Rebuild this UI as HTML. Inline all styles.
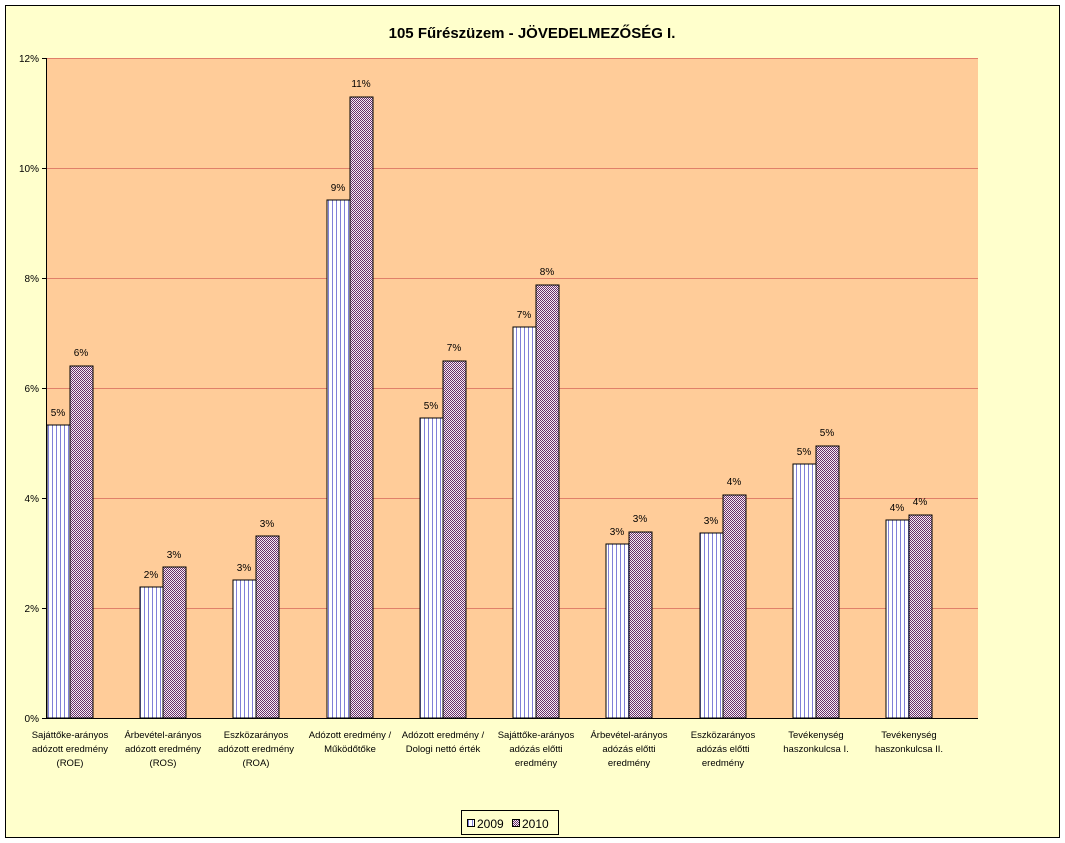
<!DOCTYPE html>
<html><head><meta charset="utf-8"><style>
body{margin:0;background:#fff}
svg{display:block;font-family:"Liberation Sans",Arial,sans-serif}
</style></head><body>
<svg width="1065" height="843" viewBox="0 0 1065 843" xmlns="http://www.w3.org/2000/svg">
<defs>
<pattern id="p09" width="4" height="4" patternUnits="userSpaceOnUse"><rect width="4" height="4" fill="#fff"/><rect x="0" width="1" height="4" fill="#8080d8"/></pattern>
<pattern id="p10" width="2" height="2" patternUnits="userSpaceOnUse"><rect width="2" height="2" fill="#f4eef4"/><rect width="1" height="1" fill="#6a2f6a"/><rect x="1" y="1" width="1" height="1" fill="#6a2f6a"/></pattern>
</defs>
<rect width="1065" height="843" fill="#fff"/>
<rect x="5.5" y="5.5" width="1054" height="832" fill="#FFFFCC" stroke="#000"/>
<text x="532" y="38" font-size="15" font-weight="bold" text-anchor="middle">105 Fűrészüzem - JÖVEDELMEZŐSÉG I.</text>
<rect x="46" y="58" width="932" height="660" fill="#FFCC99"/>
<g stroke="#e0806a" stroke-width="1">
<line x1="46" x2="978" y1="58.5" y2="58.5"/><line x1="46" x2="978" y1="168.5" y2="168.5"/><line x1="46" x2="978" y1="278.5" y2="278.5"/><line x1="46" x2="978" y1="388.5" y2="388.5"/><line x1="46" x2="978" y1="498.5" y2="498.5"/><line x1="46" x2="978" y1="608.5" y2="608.5"/>
</g>
<g stroke="#000"><line x1="46.5" y1="58" x2="46.5" y2="718"/><line x1="42" y1="718.5" x2="978" y2="718.5"/>
<line x1="42" x2="46" y1="58.5" y2="58.5"/><line x1="42" x2="46" y1="168.5" y2="168.5"/><line x1="42" x2="46" y1="278.5" y2="278.5"/><line x1="42" x2="46" y1="388.5" y2="388.5"/><line x1="42" x2="46" y1="498.5" y2="498.5"/><line x1="42" x2="46" y1="608.5" y2="608.5"/></g>
<g font-size="10" text-anchor="end">
<text x="39" y="62">12%</text><text x="39" y="172">10%</text><text x="39" y="282">8%</text><text x="39" y="392">6%</text><text x="39" y="502">4%</text><text x="39" y="612">2%</text><text x="39" y="722">0%</text>
</g>
<g stroke="#000" stroke-width="1">
<rect x="47" y="425" width="23" height="293" fill="url(#p09)"/><rect x="70" y="366" width="23" height="352" fill="url(#p10)"/>
<rect x="140" y="587" width="23" height="131" fill="url(#p09)"/><rect x="163" y="567" width="23" height="151" fill="url(#p10)"/>
<rect x="233" y="580" width="23" height="138" fill="url(#p09)"/><rect x="256" y="536" width="23" height="182" fill="url(#p10)"/>
<rect x="327" y="200" width="23" height="518" fill="url(#p09)"/><rect x="350" y="97" width="23" height="621" fill="url(#p10)"/>
<rect x="420" y="418" width="23" height="300" fill="url(#p09)"/><rect x="443" y="361" width="23" height="357" fill="url(#p10)"/>
<rect x="513" y="327" width="23" height="391" fill="url(#p09)"/><rect x="536" y="285" width="23" height="433" fill="url(#p10)"/>
<rect x="606" y="544" width="23" height="174" fill="url(#p09)"/><rect x="629" y="532" width="23" height="186" fill="url(#p10)"/>
<rect x="700" y="533" width="23" height="185" fill="url(#p09)"/><rect x="723" y="495" width="23" height="223" fill="url(#p10)"/>
<rect x="793" y="464" width="23" height="254" fill="url(#p09)"/><rect x="816" y="446" width="23" height="272" fill="url(#p10)"/>
<rect x="886" y="520" width="23" height="198" fill="url(#p09)"/><rect x="909" y="515" width="23" height="203" fill="url(#p10)"/>
</g>
<g font-size="10" text-anchor="middle">
<text x="58" y="416">5%</text><text x="81" y="356">6%</text>
<text x="151" y="578">2%</text><text x="174" y="558">3%</text>
<text x="244" y="571">3%</text><text x="267" y="527">3%</text>
<text x="338" y="191">9%</text><text x="361" y="87">11%</text>
<text x="431" y="409">5%</text><text x="454" y="351">7%</text>
<text x="524" y="318">7%</text><text x="547" y="275">8%</text>
<text x="617" y="535">3%</text><text x="640" y="522">3%</text>
<text x="711" y="524">3%</text><text x="734" y="485">4%</text>
<text x="804" y="455">5%</text><text x="827" y="436">5%</text>
<text x="897" y="511">4%</text><text x="920" y="505">4%</text>
</g>
<g font-size="9.5" text-anchor="middle">
<text x="70" y="738">Sajáttőke-arányos</text><text x="70" y="752">adózott eredmény</text><text x="70" y="766">(ROE)</text>
<text x="163" y="738">Árbevétel-arányos</text><text x="163" y="752">adózott eredmény</text><text x="163" y="766">(ROS)</text>
<text x="256" y="738">Eszközarányos</text><text x="256" y="752">adózott eredmény</text><text x="256" y="766">(ROA)</text>
<text x="350" y="738">Adózott eredmény /</text><text x="350" y="752">Működőtőke</text>
<text x="443" y="738">Adózott eredmény /</text><text x="443" y="752">Dologi nettó érték</text>
<text x="536" y="738">Sajáttőke-arányos</text><text x="536" y="752">adózás előtti</text><text x="536" y="766">eredmény</text>
<text x="629" y="738">Árbevétel-arányos</text><text x="629" y="752">adózás előtti</text><text x="629" y="766">eredmény</text>
<text x="723" y="738">Eszközarányos</text><text x="723" y="752">adózás előtti</text><text x="723" y="766">eredmény</text>
<text x="816" y="738">Tevékenység</text><text x="816" y="752">haszonkulcsa I.</text>
<text x="909" y="738">Tevékenység</text><text x="909" y="752">haszonkulcsa II.</text>
</g>
<rect x="461.5" y="810.5" width="97" height="24" fill="#FFFFCC" stroke="#000"/>
<rect x="467.5" y="819.5" width="7" height="7" fill="url(#p09)" stroke="#000"/>
<text x="477" y="828" font-size="12">2009</text>
<rect x="512.5" y="819.5" width="7" height="7" fill="url(#p10)" stroke="#000"/>
<text x="522" y="828" font-size="12">2010</text>
</svg>
</body></html>
